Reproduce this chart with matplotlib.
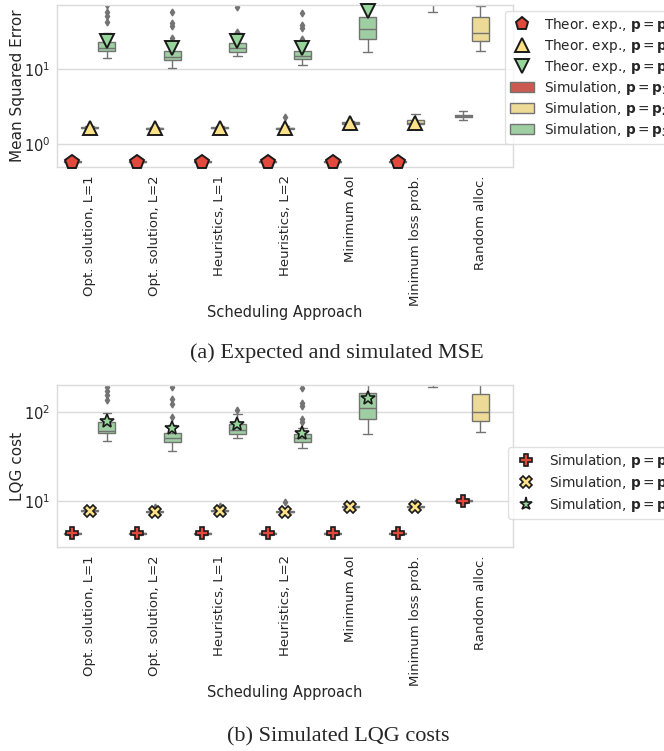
import numpy as np
import matplotlib
matplotlib.use("Agg")
import matplotlib.pyplot as plt
import seaborn as sns
from matplotlib.lines import Line2D
from matplotlib.patches import Patch
from matplotlib.ticker import NullFormatter

nan = np.nan

categories = ["Opt. solution, L=1", "Opt. solution, L=2", "Heuristics, L=1",
              "Heuristics, L=2", "Minimum AoI", "Minimum loss prob.", "Random alloc."]

# ---- MSE (top panel) ----
# theoretical expectation markers
mse_theor_p1 = [0.58, 0.58, 0.58, 0.58, 0.58, 0.58, nan]
mse_theor_p2 = [1.63, 1.62, 1.63, 1.62, 1.88, 1.92, nan]
mse_theor_p3 = [23.5, 19.0, 23.5, 19.0, 59.0, nan, nan]

# simulated box stats: (whislo, q1, med, q3, whishi)
mse_sim_p1 = [(0.565, 0.575, 0.58, 0.585, 0.595)] * 6 + [(2.1, 2.3, 2.35, 2.4, 2.7)]
mse_sim_p2 = [(1.55, 1.6, 1.63, 1.66, 1.72), (1.53, 1.58, 1.61, 1.64, 1.7),
              (1.55, 1.6, 1.63, 1.66, 1.72), (1.53, 1.58, 1.61, 1.64, 1.72),
              (1.78, 1.83, 1.88, 1.93, 2.0), (1.7, 1.85, 1.92, 2.05, 2.5),
              (17.4, 23.6, 30.0, 49.0, 69.0)]
mse_sim_p3 = [(14.0, 17.4, 19.1, 22.9, 30.0), (10.3, 13.2, 14.5, 17.2, 22.0),
              (14.9, 16.8, 19.0, 22.2, 30.0), (11.3, 13.6, 14.9, 17.2, 22.0),
              (16.8, 25.2, 34.0, 49.0, 95.0), (57.0, 90.0, 110.0, 140.0, 200.0),
              (80.0, 110.0, 140.0, 180.0, 250.0)]
mse_fliers_p1 = [[], [], [], [], [], [], []]
mse_fliers_p2 = [[], [], [], [2.3], [], [], []]
mse_fliers_p3 = [[42, 51, 57.5, 71], [25.9, 37, 41, 57.5], [31, 67],
                 [23.6, 25, 35, 38.6, 56], [], [], []]

# ---- LQG (bottom panel) ----
lqg_mean_p1 = [4.35, 4.35, 4.35, 4.35, 4.35, 4.35, 10.1]
lqg_mean_p2 = [7.75, 7.6, 7.75, 7.6, 8.6, 8.6, nan]
lqg_mean_p3 = [79.0, 66.0, 73.0, 58.0, 143.0, nan, nan]

lqg_sim_p1 = [(4.2, 4.3, 4.35, 4.4, 4.5)] * 6 + [(9.6, 9.9, 10.1, 10.3, 10.6)]
lqg_sim_p2 = [(7.5, 7.65, 7.75, 7.85, 8.0), (7.35, 7.5, 7.6, 7.7, 7.85),
              (7.5, 7.65, 7.75, 7.85, 8.0), (7.35, 7.5, 7.6, 7.7, 7.9),
              (8.3, 8.5, 8.6, 8.7, 8.9), (8.2, 8.45, 8.6, 8.8, 9.3),
              (59.6, 79.0, 100.0, 159.0, 260.0)]
lqg_sim_p3 = [(47.0, 58.0, 61.0, 77.0, 97.5), (36.5, 46.0, 51.0, 58.0, 72.0),
              (51.0, 57.0, 63.0, 73.0, 95.0), (39.4, 46.0, 51.0, 57.0, 66.0),
              (57.0, 83.4, 111.0, 164.0, 300.0), (190.0, 240.0, 280.0, 330.0, 420.0),
              (250.0, 300.0, 350.0, 420.0, 520.0)]
lqg_fliers_p1 = [[], [], [], [], [], [], []]
lqg_fliers_p2 = [[], [8.6], [8.7], [9.8], [], [9.7], []]
lqg_fliers_p3 = [[136, 155, 172, 190], [88, 123, 140, 190], [105],
                 [77, 83, 117, 126, 186], [], [], []]

colors = ["#e2483c", "#fde288", "#96d69b"]
p_labels = [r"$\mathbf{p}=\mathbf{p_1}$", r"$\mathbf{p}=\mathbf{p_2}$",
            r"$\mathbf{p}=\mathbf{p_3}$"]

sns.set_style("whitegrid")
plt.rcParams["font.family"] = ["DejaVu Sans"]
plt.rcParams["mathtext.fontset"] = "dejavusans"

LINE = "0.45"


def draw_boxes(ax, sims, fliers):
    n = len(categories)
    w = 0.8 / 3
    for h, (stats5, fl) in enumerate(zip(sims, fliers)):
        pos = np.arange(n) + (h - 1) * w
        stats = []
        for s, f in zip(stats5, fl):
            stats.append(dict(whislo=s[0], q1=s[1], med=s[2], q3=s[3],
                              whishi=s[4], fliers=f))
        ax.bxp(stats, positions=pos, widths=w * 0.98, patch_artist=True,
               showfliers=True, capwidths=w * 0.5,
               boxprops=dict(facecolor=sns.desaturate(colors[h], 0.75),
                             edgecolor=LINE, linewidth=1.0),
               medianprops=dict(color=LINE, linewidth=1.0),
               whiskerprops=dict(color=LINE, linewidth=1.0),
               capprops=dict(color=LINE, linewidth=1.0),
               flierprops=dict(marker="d", markerfacecolor=LINE,
                               markeredgecolor=LINE, markersize=3.5))


def style_axis(ax, ylim, ylabel):
    ax.set_yscale("log")
    ax.set_ylim(*ylim)
    ax.set_xlim(-0.5, len(categories) - 0.5)
    ax.set_xticks(np.arange(len(categories)))
    ax.set_xticklabels(categories, rotation=90, fontsize=9.5, color="0.15")
    ax.yaxis.set_minor_formatter(NullFormatter())
    ax.tick_params(axis="y", labelsize=10.5, colors="0.15", length=0, pad=5)
    ax.tick_params(axis="x", length=0, pad=6)
    ax.xaxis.grid(False)
    ax.yaxis.grid(True, which="major", color="0.86", linewidth=1.0)
    ax.yaxis.grid(False, which="minor")
    for sp in ax.spines.values():
        sp.set_color("0.86")
        sp.set_linewidth(1.0)
    ax.set_ylabel(ylabel, fontsize=11, color="0.15")
    ax.yaxis.set_label_coords(-0.07, 0.5)
    ax.set_xlabel("Scheduling Approach", fontsize=10.5, color="0.15")
    ax.xaxis.set_label_coords(0.5, -0.85)


fig = plt.figure(figsize=(6.64, 7.51), dpi=100)
ax1 = fig.add_axes([57 / 664, 1 - 167 / 751, 456 / 664, 162 / 751])
ax2 = fig.add_axes([57 / 664, 1 - 547 / 751, 456 / 664, 162 / 751])

x = np.arange(len(categories))
w = 0.8 / 3

# top panel
draw_boxes(ax1, [mse_sim_p1, mse_sim_p2, mse_sim_p3],
           [mse_fliers_p1, mse_fliers_p2, mse_fliers_p3])
theor_markers = ["p", "^", "v"]
for h, vals in enumerate([mse_theor_p1, mse_theor_p2, mse_theor_p3]):
    ax1.plot(x + (h - 1) * w, vals, ls="none", marker=theor_markers[h],
             ms=10, mfc=colors[h], mec="0.1", mew=1.4, zorder=5, clip_on=False)
style_axis(ax1, (0.49, 71), "Mean Squared Error")

handles = [Line2D([], [], ls="none", marker=theor_markers[h], ms=9.5,
                  mfc=colors[h], mec="0.1", mew=1.4) for h in range(3)]
handles += [Patch(facecolor=sns.desaturate(colors[h], 0.75), edgecolor=LINE,
                  linewidth=1.0) for h in range(3)]
labels = ["Theor. exp., " + p for p in p_labels] + ["Simulation, " + p for p in p_labels]
fig.legend(handles, labels, loc="upper left", bbox_to_anchor=(505 / 664, 1 - 11 / 751),
           fontsize=9.8, frameon=True, edgecolor="0.85", labelcolor="0.15",
           handlelength=1.8, handletextpad=0.7, borderaxespad=0,
           labelspacing=0.22, borderpad=0.35)

# bottom panel
draw_boxes(ax2, [lqg_sim_p1, lqg_sim_p2, lqg_sim_p3],
           [lqg_fliers_p1, lqg_fliers_p2, lqg_fliers_p3])
sim_markers = ["P", "X", "*"]
sim_sizes = [8.5, 8.5, 10]
for h, vals in enumerate([lqg_mean_p1, lqg_mean_p2, lqg_mean_p3]):
    ax2.plot(x + (h - 1) * w, vals, ls="none", marker=sim_markers[h],
             ms=sim_sizes[h], mfc=colors[h], mec="0.1", mew=1.2, zorder=5)
style_axis(ax2, (3.04, 201), "LQG cost")

handles2 = [Line2D([], [], ls="none", marker=sim_markers[h], ms=sim_sizes[h] - 0.5,
                   mfc=colors[h], mec="0.1", mew=1.2) for h in range(3)]
fig.legend(handles2, ["Simulation, " + p for p in p_labels], loc="upper left",
           bbox_to_anchor=(508 / 664, 1 - 447 / 751), fontsize=9.8, frameon=True,
           edgecolor="0.85", labelcolor="0.15", handlelength=1.9,
           handletextpad=0.75, borderaxespad=0, labelspacing=0.3, borderpad=0.35)

# captions
fig.text(337 / 664, 1 - 353 / 751, "(a) Expected and simulated MSE",
         family="Liberation Serif", fontsize=16, ha="center", va="center")
fig.text(338 / 664, 1 - 737 / 751, "(b) Simulated LQG costs",
         family="Liberation Serif", fontsize=16, ha="center", va="center")

fig.savefig("out.png", dpi=100)
